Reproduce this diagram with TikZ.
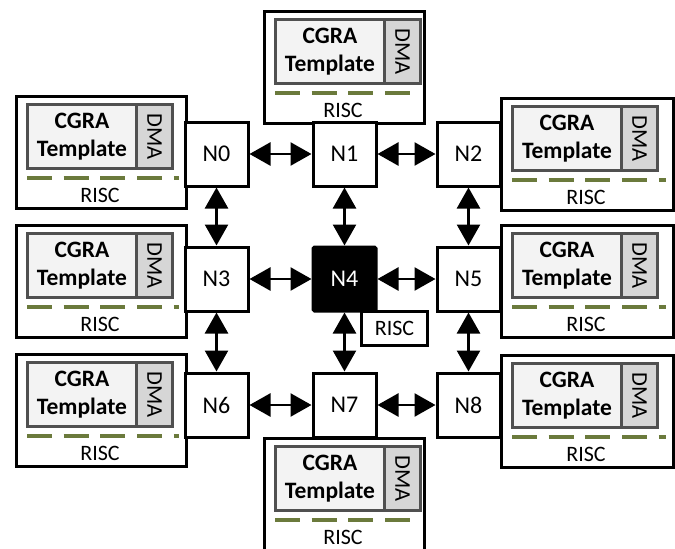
\documentclass[tikz,border=0pt]{standalone}
\usepackage{fontspec}
\setmainfont{Carlito}
\usetikzlibrary{arrows.meta,shadows}

\definecolor{dashgreen}{HTML}{6B7A3C}
\definecolor{boxedge}{HTML}{505050}
\definecolor{cgrafill}{HTML}{F3F3F3}
\definecolor{dmafill}{HTML}{D6D6D6}

\tikzset{
  tilebox/.style={draw=black, line width=3pt, fill=white, inner sep=0pt,
    drop shadow={shadow xshift=1.8pt, shadow yshift=-1.8pt, fill=black!22, opacity=1}},
  cgrabox/.style={draw=boxedge, line width=3pt, fill=cgrafill, inner sep=0pt,
    align=center, font=\fontsize{23.5}{28}\selectfont\bfseries,
    minimum width=109pt, minimum height=64pt, anchor=north west},
  dmabox/.style={draw=boxedge, line width=3pt, fill=dmafill, inner sep=0pt,
    minimum width=36pt, minimum height=64pt, anchor=north west},
  dmalabel/.style={rotate=-90, inner sep=0pt, font=\fontsize{22.5}{26}\selectfont},
  riscline/.style={draw=dashgreen, line width=3.6pt, dash pattern=on 25pt off 11.7pt},
  risclabel/.style={inner sep=0pt, font=\fontsize{22}{26}\selectfont},
  router/.style={draw=black, line width=3pt, fill=white, inner sep=0pt,
    minimum width=63pt, minimum height=64pt, font=\fontsize{24}{28}\selectfont},
  hubrouter/.style={router, fill=black, text=white, rounded corners=1.5pt},
  riscbox/.style={draw=black, line width=3pt, fill=white, inner sep=0pt,
    minimum width=66pt, minimum height=34pt, font=\fontsize{22}{26}\selectfont,
    drop shadow={shadow xshift=1.8pt, shadow yshift=-1.8pt, fill=black!22, opacity=1}},
  link/.style={line width=2.6pt, {Triangle[length=21pt,width=23pt]}-{Triangle[length=21pt,width=23pt]}},
}

% A processing tile: name, left, top, width
\newcommand\cgratile[4]{%
  \begin{scope}[shift={(#2,#3)}]
    \node[tilebox, anchor=north west, minimum width=#4pt, minimum height=112pt] (#1) at (0,0) {};
    \node[cgrabox] (#1c) at (11,8) {CGRA\\Template};
    \node[dmabox] (#1d) at (120,8) {};
    \node[dmalabel] (#1dl) at (#1d.center) {DMA};
    \coordinate (#1a) at (12,83);
    \coordinate (#1b) at (#4-6,83);
    \draw[riscline] (#1a) -- (#1b);
    \node[risclabel] (#1r) at (#4/2,100) {RISC};
  \end{scope}}

\begin{document}
\begin{tikzpicture}[x=1pt,y=-1pt]
  \clip (0,0) rectangle (675,549);
  \fill[white] (0,0) rectangle (675,549);

  % tiles around the mesh
  \cgratile{t0}{15}{95}{170}
  \cgratile{t1}{263}{10}{160}
  \cgratile{t2}{500}{97}{172}
  \cgratile{t3}{15}{224}{170}
  \cgratile{t5}{500}{224}{172}
  \cgratile{t6}{15}{353}{170}
  \cgratile{t7}{263}{437}{160}
  \cgratile{t8}{500}{354}{172}

  % RISC core attached to the central router
  \node[riscbox] (hubrisc) at (394.5,328) {RISC};

  % 3x3 router mesh
  \node[router] (n0) at (216.5,154) {N0};
  \node[router] (n1) at (344.5,154) {N1};
  \node[router] (n2) at (468.5,154) {N2};
  \node[router] (n3) at (216.5,279) {N3};
  \node[hubrouter] (n4) at (344.5,279) {N4};
  \node[router] (n5) at (468.5,279) {N5};
  \node[router] (n6) at (216.5,405) {N6};
  \node[router] (n7) at (344.5,405) {N7};
  \node[router] (n8) at (468.5,405) {N8};

  % mesh links
  \foreach \a/\b in {n0/n1,n1/n2,n3/n4,n4/n5,n6/n7,n7/n8,
                     n0/n3,n3/n6,n1/n4,n4/n7,n2/n5,n5/n8}
    \draw[link] (\a) -- (\b);
\end{tikzpicture}
\end{document}
